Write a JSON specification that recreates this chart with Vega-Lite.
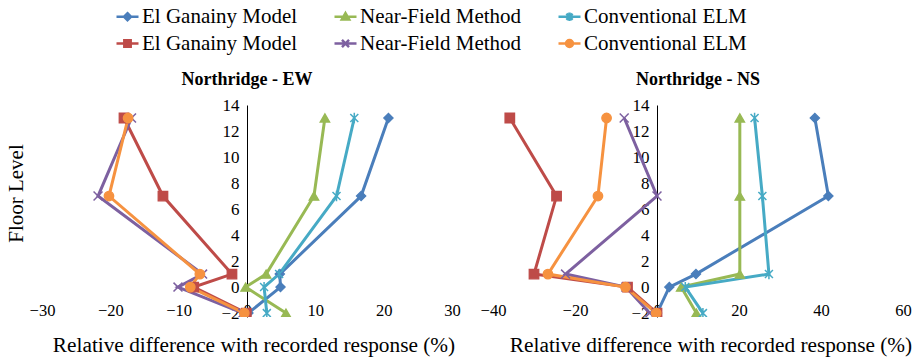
{
  "$schema": "https://vega.github.io/schema/vega-lite/v6.json",
  "background": "white",
  "padding": {"left": 5, "top": 4, "right": 5, "bottom": 4},
  "bounds": "flush",
  "spacing": 41,
  "config": {
    "view": {"stroke": null},
    "font": "Liberation Serif",
    "axis": {"grid": false, "labelColor": "black", "titleColor": "black", "labelFont": "Liberation Serif", "titleFont": "Liberation Serif"},
    "legend": {"labelFont": "Liberation Serif", "labelFontSize": 21, "labelColor": "black", "labelLimit": 400}
  },
  "datasets": {
    "d": [
      {"panel": "EW", "series": "El Ganainy Model|1", "floor": 13, "diff": 20.7},
      {"panel": "EW", "series": "El Ganainy Model|1", "floor": 7, "diff": 16.7},
      {"panel": "EW", "series": "El Ganainy Model|1", "floor": 1, "diff": 4.8},
      {"panel": "EW", "series": "El Ganainy Model|1", "floor": 0, "diff": 4.9},
      {"panel": "EW", "series": "El Ganainy Model|1", "floor": -2, "diff": 0.2},
      {"panel": "EW", "series": "Near-Field Method|1", "floor": 13, "diff": 11.4},
      {"panel": "EW", "series": "Near-Field Method|1", "floor": 7, "diff": 9.8},
      {"panel": "EW", "series": "Near-Field Method|1", "floor": 1, "diff": 2.8},
      {"panel": "EW", "series": "Near-Field Method|1", "floor": 0, "diff": -0.2},
      {"panel": "EW", "series": "Near-Field Method|1", "floor": -2, "diff": 5.7},
      {"panel": "EW", "series": "Conventional ELM|1", "floor": 13, "diff": 15.7},
      {"panel": "EW", "series": "Conventional ELM|1", "floor": 7, "diff": 13.1},
      {"panel": "EW", "series": "Conventional ELM|1", "floor": 1, "diff": 4.7},
      {"panel": "EW", "series": "Conventional ELM|1", "floor": 0, "diff": 2.5},
      {"panel": "EW", "series": "Conventional ELM|1", "floor": -2, "diff": 2.9},
      {"panel": "EW", "series": "El Ganainy Model|2", "floor": 13, "diff": -18.0},
      {"panel": "EW", "series": "El Ganainy Model|2", "floor": 7, "diff": -12.3},
      {"panel": "EW", "series": "El Ganainy Model|2", "floor": 1, "diff": -2.2},
      {"panel": "EW", "series": "El Ganainy Model|2", "floor": 0, "diff": -7.8},
      {"panel": "EW", "series": "El Ganainy Model|2", "floor": -2, "diff": -0.1},
      {"panel": "EW", "series": "Near-Field Method|2", "floor": 13, "diff": -16.9},
      {"panel": "EW", "series": "Near-Field Method|2", "floor": 7, "diff": -21.8},
      {"panel": "EW", "series": "Near-Field Method|2", "floor": 1, "diff": -6.5},
      {"panel": "EW", "series": "Near-Field Method|2", "floor": 0, "diff": -10.1},
      {"panel": "EW", "series": "Near-Field Method|2", "floor": -2, "diff": -0.6},
      {"panel": "EW", "series": "Conventional ELM|2", "floor": 13, "diff": -17.4},
      {"panel": "EW", "series": "Conventional ELM|2", "floor": 7, "diff": -20.2},
      {"panel": "EW", "series": "Conventional ELM|2", "floor": 1, "diff": -6.9},
      {"panel": "EW", "series": "Conventional ELM|2", "floor": 0, "diff": -8.3},
      {"panel": "EW", "series": "Conventional ELM|2", "floor": -2, "diff": -0.4},
      {"panel": "NS", "series": "El Ganainy Model|1", "floor": 13, "diff": 38.5},
      {"panel": "NS", "series": "El Ganainy Model|1", "floor": 7, "diff": 41.8},
      {"panel": "NS", "series": "El Ganainy Model|1", "floor": 1, "diff": 9.5},
      {"panel": "NS", "series": "El Ganainy Model|1", "floor": 0, "diff": 3.0},
      {"panel": "NS", "series": "El Ganainy Model|1", "floor": -2, "diff": 0.0},
      {"panel": "NS", "series": "Near-Field Method|1", "floor": 13, "diff": 20.2},
      {"panel": "NS", "series": "Near-Field Method|1", "floor": 7, "diff": 20.2},
      {"panel": "NS", "series": "Near-Field Method|1", "floor": 1, "diff": 20.2},
      {"panel": "NS", "series": "Near-Field Method|1", "floor": 0, "diff": 5.9},
      {"panel": "NS", "series": "Near-Field Method|1", "floor": -2, "diff": 9.6},
      {"panel": "NS", "series": "Conventional ELM|1", "floor": 13, "diff": 23.8},
      {"panel": "NS", "series": "Conventional ELM|1", "floor": 7, "diff": 25.7},
      {"panel": "NS", "series": "Conventional ELM|1", "floor": 1, "diff": 27.3},
      {"panel": "NS", "series": "Conventional ELM|1", "floor": 0, "diff": 6.9},
      {"panel": "NS", "series": "Conventional ELM|1", "floor": -2, "diff": 11.2},
      {"panel": "NS", "series": "El Ganainy Model|2", "floor": 13, "diff": -35.9},
      {"panel": "NS", "series": "El Ganainy Model|2", "floor": 7, "diff": -24.5},
      {"panel": "NS", "series": "El Ganainy Model|2", "floor": 1, "diff": -30.0},
      {"panel": "NS", "series": "El Ganainy Model|2", "floor": 0, "diff": -7.2},
      {"panel": "NS", "series": "El Ganainy Model|2", "floor": -2, "diff": 0.0},
      {"panel": "NS", "series": "Near-Field Method|2", "floor": 13, "diff": -8.0},
      {"panel": "NS", "series": "Near-Field Method|2", "floor": 7, "diff": 0.0},
      {"panel": "NS", "series": "Near-Field Method|2", "floor": 1, "diff": -22.3},
      {"panel": "NS", "series": "Near-Field Method|2", "floor": 0, "diff": -7.6},
      {"panel": "NS", "series": "Near-Field Method|2", "floor": -2, "diff": -1.8},
      {"panel": "NS", "series": "Conventional ELM|2", "floor": 13, "diff": -12.3},
      {"panel": "NS", "series": "Conventional ELM|2", "floor": 7, "diff": -14.4},
      {"panel": "NS", "series": "Conventional ELM|2", "floor": 1, "diff": -26.6},
      {"panel": "NS", "series": "Conventional ELM|2", "floor": 0, "diff": -7.7},
      {"panel": "NS", "series": "Conventional ELM|2", "floor": -2, "diff": -0.2}
    ]
  },
  "hconcat": [
    {
      "width": 410,
      "height": 212,
      "title": {"text": "Northridge - EW", "fontSize": 18, "fontWeight": "bold", "font": "Liberation Serif", "color": "black", "baseline": "alphabetic", "offset": -7, "anchor": "middle"},
      "data": {"name": "d"},
      "transform": [{"filter": "datum.panel === 'EW'"}],
      "encoding": {
        "x": {"field": "diff", "type": "quantitative", "scale": {"domain": [-30, 30], "nice": false},
          "axis": {"orient": "bottom", "values": [-30, -20, -10, 0, 10, 20, 30], "domain": false, "ticks": false, "tickSize": 0, "labelPadding": -7, "labelBaseline": "middle", "labelFont": "Liberation Serif", "labelFontSize": 16.5, "labelFlush": false, "labelOverlap": false,
            "title": "Relative difference with recorded response (%)", "titleFont": "Liberation Serif", "titleFontSize": 21.3, "titleFontWeight": "normal", "titleX": 211.5, "titleY": 28, "titleBaseline": "middle", "titleAlign": "center"}},
        "y": {"field": "floor", "type": "quantitative", "scale": {"domain": [-2.3, 14], "nice": false, "zero": false},
          "axis": {"orient": "left", "offset": -205, "values": [-2, 0, 2, 4, 6, 8, 10, 12, 14], "domain": true, "domainColor": "black", "domainWidth": 1, "ticks": false, "tickSize": 0, "labelPadding": 8, "labelFont": "Liberation Serif", "labelFontSize": 17, "labelOverlap": false, "labelFlush": false,
            "title": "Floor Level", "titleFont": "Liberation Serif", "titleFontSize": 21, "titleFontWeight": "normal", "titleX": -231, "titleY": 88, "titleAngle": -90, "titleAlign": "center", "titleBaseline": "middle"}}
      },
      "layer": [
        {"data": {"values": [{}]}, "mark": {"type": "rule", "color": "black", "strokeWidth": 1}, "encoding": {"x": null, "y": {"datum": 0, "type": "quantitative"}}},
        {"transform": [{"filter": "false"}],
          "mark": {"type": "point", "filled": true, "opacity": 1, "strokeWidth": 2.5},
          "encoding": {
            "fill": {"field": "series", "type": "nominal",
              "scale": {"domain": ["El Ganainy Model|1", "Near-Field Method|1", "Conventional ELM|1", "El Ganainy Model|2", "Near-Field Method|2", "Conventional ELM|2"], "range": ["#4A7EBB", "#98B954", "#46AAC5", "#BE4B48", "#7D60A0", "#F69240"]},
              "legend": {"orient": "none", "legendX": 73, "legendY": -101, "direction": "horizontal", "columns": 3, "title": null, "padding": 0, "labelFont": "Liberation Serif", "labelFontSize": 21, "labelColor": "black", "labelLimit": 400, "labelOffset": 2, "columnPadding": 31, "rowPadding": 4, "symbolSize": 484, "symbolStrokeWidth": 2.5, "labelExpr": "split(datum.label, '|')[0]"}},
            "stroke": {"field": "series", "type": "nominal",
              "scale": {"domain": ["El Ganainy Model|1", "Near-Field Method|1", "Conventional ELM|1", "El Ganainy Model|2", "Near-Field Method|2", "Conventional ELM|2"], "range": ["#4A7EBB", "#98B954", "#46AAC5", "#BE4B48", "#7D60A0", "#F69240"]},
              "legend": {"orient": "none", "legendX": 73, "legendY": -101, "direction": "horizontal", "columns": 3, "title": null, "padding": 0, "labelFont": "Liberation Serif", "labelFontSize": 21, "labelColor": "black", "labelLimit": 400, "labelOffset": 2, "columnPadding": 31, "rowPadding": 4, "symbolSize": 484, "symbolStrokeWidth": 2.5, "labelExpr": "split(datum.label, '|')[0]"}},
            "shape": {"field": "series", "type": "nominal",
              "scale": {"domain": ["El Ganainy Model|1", "Near-Field Method|1", "Conventional ELM|1", "El Ganainy Model|2", "Near-Field Method|2", "Conventional ELM|2"],
                "range": ["M-1,0H1M0,-0.32L0.32,0L0,0.32L-0.32,0Z", "M-1,0H1M0,-0.34L0.34,0.26L-0.34,0.26Z", "M-1,0H1M-0.28,-0.28L0.28,0.28M-0.28,0.28L0.28,-0.28M0,-0.38V0.38", "M-1,0H1M-0.29,-0.29H0.29V0.29H-0.29Z", "M-1,0H1M-0.32,-0.32L0.32,0.32M-0.32,0.32L0.32,-0.32", "M-1,0H1M-0.32,0A0.32,0.32,0,1,0,0.32,0A0.32,0.32,0,1,0,-0.32,0Z"]},
              "legend": {"orient": "none", "legendX": 73, "legendY": -101, "direction": "horizontal", "columns": 3, "title": null, "padding": 0, "labelFont": "Liberation Serif", "labelFontSize": 21, "labelColor": "black", "labelLimit": 400, "labelOffset": 2, "columnPadding": 31, "rowPadding": 4, "symbolSize": 484, "symbolStrokeWidth": 2.5, "labelExpr": "split(datum.label, '|')[0]"}}
          }},
        {"mark": {"type": "line", "strokeWidth": 3, "clip": true},
          "encoding": {
            "order": {"field": "floor", "type": "quantitative"},
            "stroke": {"field": "series", "type": "nominal",
              "legend": {"orient": "none", "legendX": 73, "legendY": -101, "direction": "horizontal", "columns": 3, "title": null, "padding": 0, "labelFont": "Liberation Serif", "labelFontSize": 21, "labelColor": "black", "labelLimit": 400, "labelOffset": 2, "columnPadding": 31, "rowPadding": 4, "symbolSize": 484, "symbolStrokeWidth": 2.5, "labelExpr": "split(datum.label, '|')[0]"}}
          }},
        {"transform": [{"filter": "datum.series === 'El Ganainy Model|1'"}], "mark": {"type": "point", "shape": "diamond", "filled": true, "fill": "#4A7EBB", "stroke": "#4A7EBB", "strokeWidth": 1.3, "size": 85, "opacity": 1, "clip": true}},
        {"transform": [{"filter": "datum.series === 'Near-Field Method|1'"}], "mark": {"type": "point", "shape": "triangle-up", "filled": true, "fill": "#98B954", "stroke": "#98B954", "strokeWidth": 1.3, "size": 90, "opacity": 1, "clip": true}},
        {"transform": [{"filter": "datum.series === 'Conventional ELM|1'"}], "mark": {"type": "point", "shape": "M-1,-1L1,1M-1,1L1,-1M0,-1.3V1.3", "filled": true, "fill": "#46AAC5", "stroke": "#46AAC5", "strokeWidth": 1.5, "size": 64, "opacity": 1, "clip": true}},
        {"transform": [{"filter": "datum.series === 'El Ganainy Model|2'"}], "mark": {"type": "point", "shape": "square", "filled": true, "fill": "#BE4B48", "stroke": "#BE4B48", "strokeWidth": 1.3, "size": 90, "opacity": 1, "clip": true}},
        {"transform": [{"filter": "datum.series === 'Near-Field Method|2'"}], "mark": {"type": "point", "shape": "M-1,-1L1,1M-1,1L1,-1", "filled": true, "fill": "#7D60A0", "stroke": "#7D60A0", "strokeWidth": 1.5, "size": 80, "opacity": 1, "clip": true}},
        {"transform": [{"filter": "datum.series === 'Conventional ELM|2'"}], "mark": {"type": "point", "shape": "circle", "filled": true, "fill": "#F69240", "stroke": "#F69240", "strokeWidth": 1.3, "size": 90, "opacity": 1, "clip": true}}
      ]
    },
    {
      "width": 410,
      "height": 212,
      "title": {"text": "Northridge - NS", "fontSize": 18, "fontWeight": "bold", "font": "Liberation Serif", "color": "black", "baseline": "alphabetic", "offset": -7, "anchor": "middle"},
      "data": {"name": "d"},
      "transform": [{"filter": "datum.panel === 'NS'"}],
      "encoding": {
        "x": {"field": "diff", "type": "quantitative", "scale": {"domain": [-40, 60], "nice": false},
          "axis": {"orient": "bottom", "values": [-40, -20, 0, 20, 40, 60], "domain": false, "ticks": false, "tickSize": 0, "labelPadding": -7, "labelBaseline": "middle", "labelFont": "Liberation Serif", "labelFontSize": 16.5, "labelFlush": false, "labelOverlap": false,
            "title": "Relative difference with recorded response (%)", "titleFont": "Liberation Serif", "titleFontSize": 21.3, "titleFontWeight": "normal", "titleX": 217.5, "titleY": 28, "titleBaseline": "middle", "titleAlign": "center"}},
        "y": {"field": "floor", "type": "quantitative", "scale": {"domain": [-2.3, 14], "nice": false, "zero": false},
          "axis": {"orient": "left", "offset": -164, "values": [-2, 0, 2, 4, 6, 8, 10, 12, 14], "domain": true, "domainColor": "black", "domainWidth": 1, "ticks": false, "tickSize": 0, "labelPadding": 8, "labelFont": "Liberation Serif", "labelFontSize": 17, "labelOverlap": false, "labelFlush": false, "title": null}}
      },
      "layer": [
        {"data": {"values": [{}]}, "mark": {"type": "rule", "color": "black", "strokeWidth": 1}, "encoding": {"x": null, "y": {"datum": 0, "type": "quantitative"}}},
        {"mark": {"type": "line", "strokeWidth": 3, "clip": true},
          "encoding": {
            "order": {"field": "floor", "type": "quantitative"},
            "stroke": {"field": "series", "type": "nominal",
              "legend": {"orient": "none", "legendX": 73, "legendY": -101, "direction": "horizontal", "columns": 3, "title": null, "padding": 0, "labelFont": "Liberation Serif", "labelFontSize": 21, "labelColor": "black", "labelLimit": 400, "labelOffset": 2, "columnPadding": 31, "rowPadding": 4, "symbolSize": 484, "symbolStrokeWidth": 2.5, "labelExpr": "split(datum.label, '|')[0]"}}
          }},
        {"transform": [{"filter": "datum.series === 'El Ganainy Model|1'"}], "mark": {"type": "point", "shape": "diamond", "filled": true, "fill": "#4A7EBB", "stroke": "#4A7EBB", "strokeWidth": 1.3, "size": 85, "opacity": 1, "clip": true}},
        {"transform": [{"filter": "datum.series === 'Near-Field Method|1'"}], "mark": {"type": "point", "shape": "triangle-up", "filled": true, "fill": "#98B954", "stroke": "#98B954", "strokeWidth": 1.3, "size": 90, "opacity": 1, "clip": true}},
        {"transform": [{"filter": "datum.series === 'Conventional ELM|1'"}], "mark": {"type": "point", "shape": "M-1,-1L1,1M-1,1L1,-1M0,-1.3V1.3", "filled": true, "fill": "#46AAC5", "stroke": "#46AAC5", "strokeWidth": 1.5, "size": 64, "opacity": 1, "clip": true}},
        {"transform": [{"filter": "datum.series === 'El Ganainy Model|2'"}], "mark": {"type": "point", "shape": "square", "filled": true, "fill": "#BE4B48", "stroke": "#BE4B48", "strokeWidth": 1.3, "size": 90, "opacity": 1, "clip": true}},
        {"transform": [{"filter": "datum.series === 'Near-Field Method|2'"}], "mark": {"type": "point", "shape": "M-1,-1L1,1M-1,1L1,-1", "filled": true, "fill": "#7D60A0", "stroke": "#7D60A0", "strokeWidth": 1.5, "size": 80, "opacity": 1, "clip": true}},
        {"transform": [{"filter": "datum.series === 'Conventional ELM|2'"}], "mark": {"type": "point", "shape": "circle", "filled": true, "fill": "#F69240", "stroke": "#F69240", "strokeWidth": 1.3, "size": 90, "opacity": 1, "clip": true}}
      ]
    }
  ],
  "resolve": {"scale": {"stroke": "shared", "fill": "shared", "shape": "shared", "x": "independent"}}
}
